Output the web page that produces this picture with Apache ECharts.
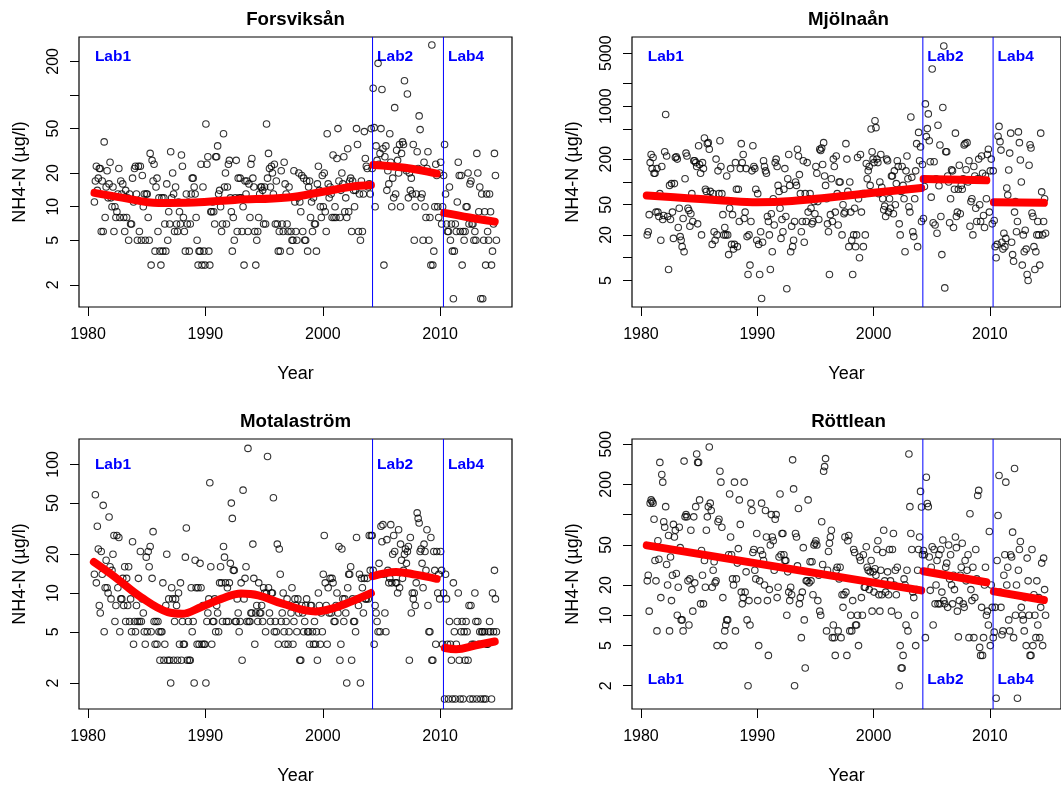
<!DOCTYPE html>
<html>
<head>
<meta charset="utf-8">
<title>NH4-N</title>
<script src="https://cdn.jsdelivr.net/npm/echarts@6/dist/echarts.min.js"></script>
<style>
  html, body { margin: 0; padding: 0; background: #fff; }
  #chart { width: 1061px; height: 787px; }
</style>
</head>
<body>
<div id="chart"></div>
<script>
// monthly samples, first one July 1980, last one October 2014
const startYear = 1980 + 6.5 / 12;
const xTicks = [1980, 1990, 2000, 2010];
const labNames = ['Lab1', 'Lab2', 'Lab4'];
const labAt = [1980.2, 2004.24, 2010.28];

const forsviksan = [
  11, 17, 23, 14, 18, 22,
  22, 6, 17, 6, 38, 8, 15, 21, 12, 16, 25, 12,
  10, 15, 6, 10, 8, 9, 13, 22, 8, 17, 13, 16,
  8, 6, 14, 8, 12, 5, 13, 7, 7, 18, 11, 22,
  23, 13, 5, 23, 6, 23, 5, 19, 10, 13, 5, 13,
  13, 8, 5, 30, 3, 26, 17, 24, 4, 15, 18, 6,
  12, 4, 3, 12, 4, 12, 7, 4, 16, 5, 9, 7,
  31, 12, 20, 13, 6, 15, 7, 6, 11, 9, 7, 29,
  23, 8, 6, 4, 13, 7, 11, 4, 7, 13, 18, 18,
  15, 13, 8, 5, 3, 4, 4, 24, 3, 15, 4, 3,
  55, 24, 28, 4, 3, 9, 9, 11, 9, 7, 28, 28,
  35, 13, 14, 10, 6, 7, 45, 15, 20, 7, 15, 24,
  26, 12, 9, 4, 8, 5, 12, 26, 6, 18, 12, 18,
  12, 6, 10, 3, 17, 13, 17, 6, 16, 8, 24, 27,
  18, 15, 6, 3, 5, 6, 8, 13, 15, 15, 14, 7,
  15, 7, 55, 18, 30, 22, 15, 23, 20, 13, 24, 7,
  17, 7, 4, 6, 4, 21, 7, 6, 25, 16, 13, 7,
  6, 15, 4, 6, 5, 5, 21, 11, 6, 5, 12, 20,
  11, 9, 19, 6, 18, 5, 5, 17, 4, 15, 17, 8,
  11, 6, 12, 7, 7, 4, 16, 23, 14, 10, 8, 19,
  10, 20, 9, 6, 45, 16, 12, 15, 13, 8, 29, 8,
  10, 8, 27, 50, 17, 8, 14, 20, 16, 28, 9, 12,
  8, 33, 9, 17, 18, 6, 17, 14, 10, 14, 50, 36,
  6, 13, 5, 17, 6, 13, 47, 27, 23, 22, 15, 16,
  13, 50, 22,
  // Lab2
  115, 51, 10, 35, 26, 192, 24, 30, 50,
  112, 33, 3, 28, 35, 14, 21, 16, 45, 25, 10, 18,
  12, 77, 13, 32, 26, 20, 36, 10, 30, 38, 36, 134,
  22, 21, 102, 12, 20, 14, 18, 13, 36, 5, 10, 13,
  31, 22, 65, 49, 12, 13, 5, 25, 10, 8, 22, 31,
  5, 8, 3, 280, 3, 4, 10, 24, 19, 10, 8, 20,
  25, 7, 10, 19,
  // Lab4
  36, 13, 7, 6, 6, 15, 5, 7,
  4, 1.5, 4, 7, 6, 11, 25, 19, 6, 19, 3, 6,
  5, 6, 10, 10, 20, 7, 16, 17, 7, 7, 5, 6,
  5, 30, 20, 9, 15, 1.5, 13, 1.5, 5, 9, 3, 13,
  6, 5, 13, 9, 3, 4, 7, 30, 19, 5
];

const mjolnaan = [
  20, 22, 37, 180, 230, 150,
  210, 130, 130, 40, 150, 40, 35, 70, 17, 160, 32, 36,
  250, 775, 220, 35, 7, 90, 32, 95, 40, 18, 95, 210,
  215, 200, 25, 45, 19, 17, 14, 33, 12, 110, 240, 220,
  45, 42, 26, 38, 70, 30, 190, 190, 180, 160, 28, 300,
  170, 130, 20, 180, 150, 380, 80, 75, 320, 330, 270, 75,
  60, 15, 70, 22, 17, 200, 20, 140, 70, 350, 160, 70,
  37, 20, 25, 20, 120, 20, 11, 45, 150, 15, 37, 13,
  15, 180, 80, 14, 80, 30, 150, 320, 180, 230, 33, 40,
  150, 19, 6, 20, 8, 30, 140, 300, 160, 150, 80, 17,
  70, 15, 6, 22, 2.9, 16, 190, 160, 140, 130, 35, 30,
  20, 7, 38, 12, 60, 27, 180, 200, 160, 90, 75, 45,
  18, 32, 22, 80, 150, 35, 3.9, 110, 230, 90, 12, 26,
  14, 17, 30, 100, 90, 270, 220, 125, 70, 22, 30, 190,
  16, 70, 30, 180, 40, 60, 70, 45, 28, 30, 55, 38,
  160, 130, 55, 32, 270, 260, 280, 170, 330, 120, 90, 60,
  28, 22, 6, 37, 110, 30, 200, 160, 40, 220, 70, 27,
  100, 100, 65, 20, 50, 38, 40, 320, 200, 75, 14, 100,
  40, 17, 6, 20, 45, 14, 20, 210, 60, 10, 230, 40,
  70, 14, 70, 20, 175, 110, 140, 160, 90, 500, 250, 200,
  180, 640, 520, 200, 180, 70, 100, 230, 85, 60, 43, 48,
  35, 200, 190, 40, 60, 45, 120, 120, 38, 140, 50, 95,
  190, 160, 28, 20, 75, 160, 90, 60, 12, 140, 220, 110,
  47, 40, 720, 115, 22, 19, 60, 140, 320, 14, 450, 190,
  290, 30, 170,
  // Lab2
  33, 87, 1070, 396, 505, 790, 350, 185, 63,
  3090, 29, 185, 27, 110, 21, 560, 89, 307, 35, 11, 960,
  6200, 4, 250, 250, 120, 100, 29, 60, 145, 140, 25, 80,
  440, 35, 40, 80, 166, 38, 90, 80, 110, 307, 320, 145,
  330, 100, 190, 26, 55, 60, 20, 160, 120, 45, 30, 110,
  200, 50, 30, 220, 130, 36, 25, 120, 60, 230, 270, 40,
  140, 200, 28, 140,
  // Lab4
  31, 14, 10, 15, 400, 540, 340, 263,
  16, 13, 21, 14, 18, 83, 67, 144, 240, 440, 16, 11,
  9, 40, 55, 22, 30, 457, 330, 195, 100, 8, 20, 12,
  23, 13, 6, 5, 166, 309, 280, 39, 35, 14, 7, 12,
  20, 30, 20, 8, 440, 74, 20, 30, 60, 21
];

const motalastrom = [
  14, 58, 12, 33, 22, 8,
  7, 21, 14, 48, 5, 11, 18, 11, 10, 39, 16, 9,
  15, 20, 28, 6, 8, 28, 11, 27, 5, 9, 9, 13,
  8, 16, 6, 13, 8, 16, 6, 9, 5, 25, 4, 6,
  5, 8, 6, 13, 6, 21, 6, 9, 7, 5, 4, 19,
  5, 21, 16, 23, 5, 13, 30, 6, 4, 6, 4, 6,
  5, 3, 5, 5, 12, 3, 4, 8, 20, 3, 9, 3,
  2, 11, 9, 3, 6, 9, 8, 3, 10, 4, 12, 3,
  6, 4, 4, 19, 32, 3, 6, 3, 3, 11, 5, 6,
  2, 18, 11, 4, 11, 4, 17, 11, 4, 8, 4, 4,
  2, 6, 7, 9, 72, 16, 4, 6, 6, 9, 5, 8,
  7, 5, 12, 16, 12, 6, 23, 19, 12, 6, 11, 6,
  12, 17, 50, 38, 15, 15, 6, 6, 9, 7, 5, 6,
  12, 3, 63, 9, 13, 16, 6, 133, 6, 6, 7, 7,
  24, 13, 4, 7, 8, 6, 12, 7, 7, 8, 6, 11,
  10, 5, 10, 115, 11, 7, 6, 10, 10, 55, 5, 6,
  5, 24, 4, 22, 14, 6, 7, 10, 5, 4, 6, 9,
  4, 5, 8, 7, 11, 4, 6, 9, 8, 5, 9, 7,
  3, 3, 8, 7, 5, 6, 8, 9, 5, 5, 4, 8,
  8, 5, 4, 6, 4, 5, 3, 10, 8, 4, 7, 5,
  14, 28, 12, 8, 4, 11, 7, 13, 7, 13, 12, 6,
  6, 8, 10, 7, 23, 3, 4, 22, 9, 6, 9, 7,
  2, 11, 14, 14, 16, 3, 9, 6, 6, 5, 27, 9,
  8, 14, 2, 13, 11, 7, 13, 9, 9, 13, 9, 28,
  15, 28, 28,
  // Lab2
  15, 4, 8, 7, 6, 5, 17, 5, 33,
  25, 34, 14, 7, 5, 26, 15, 12, 13, 34, 12, 20,
  28, 21, 12, 12, 10, 31, 11, 24, 18, 13, 15, 20,
  22, 17, 21, 23, 3, 27, 7, 10, 9, 10, 8, 12,
  42, 38, 35, 21, 22, 17, 11, 24, 21, 15, 31, 8,
  5, 5, 27, 3, 3, 21, 15, 4, 21, 10, 14, 9,
  21, 15, 4, 10,
  // Lab4
  1.5, 14, 9, 4, 1.5, 6, 4, 3,
  1.5, 12, 5, 1.5, 4, 6, 10, 3, 1.5, 5, 6, 1.5,
  5, 3, 6, 5, 3, 8, 1.5, 8, 4, 1.5, 4, 10,
  6, 1.5, 6, 4, 5, 1.5, 5, 5, 1.5, 5, 1.5, 4,
  4, 5, 6, 5, 1.5, 10, 5, 15, 9, 5
];

const rottlean = [
  22, 25, 11, 130, 140, 135,
  130, 90, 35, 22, 7, 55, 36, 330, 15, 250, 210, 85,
  75, 120, 32, 20, 62, 7, 38, 14, 25, 80, 60, 70,
  26, 10, 19, 75, 47, 9, 9, 7, 340, 95, 100, 95,
  22, 8, 23, 70, 18, 11, 95, 21, 120, 400, 330, 330,
  140, 13, 44, 25, 13, 35, 19, 70, 95, 120, 470, 130,
  110, 19, 28, 34, 21, 22, 5, 85, 90, 270, 210, 75,
  15, 5, 7, 8, 9, 9, 40, 160, 60, 40, 23, 20,
  210, 7, 23, 33, 46, 140, 80, 17, 13, 15, 210, 17,
  27, 9, 2, 14, 8, 130, 110, 42, 45, 28, 23, 65,
  14, 5, 22, 44, 130, 40, 35, 20, 110, 60, 14, 4,
  18, 50, 100, 60, 55, 28, 90, 100, 15, 19, 38, 160,
  40, 65, 65, 40, 35, 35, 10, 27, 17, 14, 19, 16,
  350, 180, 2, 65, 60, 31, 115, 13, 15, 6, 17, 47,
  9, 3, 22, 22, 140, 21, 34, 22, 34, 16, 50, 52,
  55, 50, 14, 25, 11, 10, 85, 32, 270, 300, 360, 7,
  28, 43, 52, 60, 70, 6, 8, 6, 4, 28, 30, 7,
  23, 30, 6, 16, 12, 16, 60, 17, 4, 55, 62, 7,
  10, 7, 14, 45, 42, 8, 8, 10, 5, 38, 35, 15,
  10, 40, 19, 19, 48, 30, 28, 18, 27, 35, 11, 27,
  17, 29, 25, 45, 55, 16, 11, 28, 16, 42, 70, 22,
  17, 20, 27, 16, 45, 22, 11, 45, 65, 20, 28, 16,
  30, 10, 2, 5, 3, 3, 4, 23, 20, 8, 28, 7,
  400, 120, 65, 45, 17, 15, 10, 5, 18, 28, 45, 60,
  170, 119, 40,
  // Lab2
  44, 40, 6, 235, 129, 120, 38, 17.7, 30,
  48, 8, 45, 13, 20, 35, 13, 40, 13, 45, 17, 56,
  14, 13, 30, 33, 12, 50, 23, 40, 20, 13, 25, 18,
  60, 47, 11, 6.1, 14, 25, 30, 52, 13, 12, 35, 22,
  28, 40, 6, 102, 18, 14, 30, 6, 15, 45, 23, 155,
  174, 4.8, 4, 12, 4, 6, 20, 30, 10, 11, 8, 68,
  5, 20, 12, 6,
  // Lab4
  6.8, 12, 1.5, 35, 98, 245, 17, 12,
  6.4, 7, 25, 40, 210, 20, 30, 9, 7, 40, 38, 67,
  6, 287, 10, 20, 1.5, 28, 45, 54, 12, 10, 9, 7,
  15, 5, 37, 22, 10, 4, 4, 45, 5, 16, 10, 6,
  22, 8, 15, 6, 12, 33, 5, 37, 18, 10
];

// fitted trends per lab period: [year, value]
const forsTrend = [
  [[1980.55, 13.3], [1983, 12.0], [1986, 10.8], [1989, 10.9], [1992.5, 11.5], [1997, 12.1], [2000, 13.6], [2002.3, 15.0], [2004.1, 15.6]],
  [[2004.3, 23.6], [2007, 22.3], [2009.7, 19.8]],
  [[2010.35, 8.8], [2012.5, 8.0], [2014.65, 7.35]]
];
const mjolTrend = [
  [[1980.5, 66], [1984, 61], [1987, 57], [1990, 54], [1993, 56], [1996, 62], [2000, 72], [2004.1, 83]],
  [[2004.3, 109], [2009.7, 105]],
  [[2010.35, 54], [2014.65, 53]]
];
const motaTrend = [
  [[1980.5, 17.4], [1982.3, 13.3], [1984.5, 9.3], [1986.8, 7.1], [1988, 6.9], [1989.65, 7.8], [1991.35, 9.0], [1993.05, 9.9], [1994.5, 9.6], [1996.5, 8.3], [1999.4, 7.2], [2000.85, 7.6], [2002.3, 8.5], [2004.1, 10.0]],
  [[2004.25, 13.5], [2006.25, 14.6], [2007.9, 13.9], [2009.7, 12.9]],
  [[2010.4, 3.74], [2011.35, 3.66], [2013.05, 3.93], [2014.65, 4.2]]
];
const rottTrend = [
  [[1980.5, 49.5], [2004.1, 17.7]],
  [[2004.3, 27.4], [2009.7, 21.3]],
  [[2010.35, 17.3], [2014.65, 14.2]]
];

const forsTicks = [2, 5, 10, 20, 50, 100, 200];
const forsLabels = [2, 5, 10, 20, 50, 200];
const mjolTicks = [5, 10, 20, 50, 100, 200, 500, 1000, 2000, 5000];
const mjolLabels = [5, 20, 50, 200, 1000, 5000];
const motaTicks = [2, 5, 10, 20, 50, 100];
const motaLabels = [2, 5, 10, 20, 50, 100];
const rottTicks = [2, 5, 10, 20, 50, 100, 200, 500];
const rottLabels = [2, 5, 10, 20, 50, 200, 500];

const FONT = '"Liberation Sans", Arial, Helvetica, sans-serif';
const BOX_W = 433, BOX_H = 270;
const X_MIN = 1979.23, X_MAX = 2016.12;

const panels = [
  {title: 'Forsviksån', values: forsviksan, trend: forsTrend, ticks: forsTicks, labels: forsLabels,
   ylim: [0.102, 2.519], labY: 220, left: 79, top: 37},
  {title: 'Mjölnaån', values: mjolnaan, trend: mjolTrend, ticks: mjolTicks, labels: mjolLabels,
   ylim: [0.350, 3.912], labY: 4490, left: 632, top: 37},
  {title: 'Motalaström', values: motalastrom, trend: motaTrend, ticks: motaTicks, labels: motaLabels,
   ylim: [0.0987, 2.197], labY: 99, left: 79, top: 439},
  {title: 'Röttlean', values: rottlean, trend: rottTrend, ticks: rottTicks, labels: rottLabels,
   ylim: [0.0695, 2.751], labY: 2.31, left: 632, top: 439}
];

const chart = echarts.init(document.getElementById('chart'));

const grid = [], xAxis = [], yAxis = [], series = [], graphic = [];

panels.forEach((p, i) => {
  grid.push({
    left: p.left, top: p.top, width: BOX_W, height: BOX_H,
    show: true, borderColor: '#000', borderWidth: 1.2, backgroundColor: 'rgba(0,0,0,0)'
  });
  xAxis.push({
    gridIndex: i, type: 'value', min: X_MIN, max: X_MAX,
    axisLine: {show: false},
    splitLine: {show: false},
    axisTick: {show: true, customValues: xTicks, length: 9, lineStyle: {color: '#000', width: 1}},
    axisLabel: {
      customValues: xTicks, formatter: v => String(Math.round(v)),
      fontSize: 16, color: '#000', fontFamily: FONT, margin: 20
    },
    name: 'Year', nameLocation: 'middle', nameGap: 58,
    nameTextStyle: {fontSize: 18, color: '#000', fontFamily: FONT}
  });
  yAxis.push({
    gridIndex: i, type: 'value', min: p.ylim[0], max: p.ylim[1],
    axisLine: {show: false},
    splitLine: {show: false},
    axisTick: {show: true, customValues: p.ticks.map(Math.log10), length: 9, lineStyle: {color: '#000', width: 1}},
    axisLabel: {
      customValues: p.labels.map(Math.log10),
      formatter: v => String(Math.round(Math.pow(10, v))),
      rotate: 90, align: 'center', verticalAlign: 'bottom',
      fontSize: 16, color: '#000', fontFamily: FONT, margin: 17
    },
    name: 'NH4-N (µg/l)', nameLocation: 'middle', nameRotate: 90, nameGap: 50,
    nameTextStyle: {fontSize: 18, color: '#000', fontFamily: FONT}
  });

  series.push({
    type: 'scatter', xAxisIndex: i, yAxisIndex: i,
    data: p.values.map((v, k) => [startYear + k / 12, Math.log10(v)]),
    symbol: 'circle', symbolSize: 6.5,
    itemStyle: {color: 'rgba(0,0,0,0)', borderColor: '#000', borderWidth: 1.1},
    emphasis: {disabled: true}, silent: true, z: 2
  });

  // vertical lines where the lab changed
  labAt.slice(1).forEach(x => {
    series.push({
      type: 'line', xAxisIndex: i, yAxisIndex: i,
      data: [[x, p.ylim[0]], [x, p.ylim[1]]],
      showSymbol: false, silent: true, z: 4,
      lineStyle: {color: '#0000ff', width: 1},
      emphasis: {disabled: true}
    });
  });

  p.trend.forEach(seg => {
    series.push({
      type: 'line', xAxisIndex: i, yAxisIndex: i,
      data: seg.map(d => [d[0], Math.log10(d[1])]),
      smooth: 0.4, showSymbol: false, silent: true, z: 3,
      lineStyle: {color: '#ff0000', width: 8, cap: 'round', join: 'round'},
      emphasis: {disabled: true}
    });
  });

  graphic.push({
    type: 'text', x: p.left + BOX_W / 2, y: p.top - 17.5, silent: true,
    style: {
      text: p.title, fill: '#000', fontSize: 18.7, fontWeight: 'bold', fontFamily: FONT,
      align: 'center', verticalAlign: 'middle', textAlign: 'center', textVerticalAlign: 'middle'
    }
  });
});

chart.setOption({
  animation: false,
  backgroundColor: '#fff',
  grid: grid, xAxis: xAxis, yAxis: yAxis, series: series, graphic: graphic
});

// lab names next to the lab change lines
panels.forEach((p, i) => {
  labAt.forEach((x, j) => {
    const pt = chart.convertToPixel({gridIndex: i}, [x, Math.log10(p.labY)]);
    graphic.push({
      type: 'text', x: pt[0] + 4.5, y: pt[1], silent: true,
      style: {
        text: labNames[j], fill: '#0000ff', fontSize: 15.5, fontWeight: 'bold', fontFamily: FONT,
        align: 'left', verticalAlign: 'middle', textAlign: 'left', textVerticalAlign: 'middle'
      }
    });
  });
});
chart.setOption({graphic: graphic});
</script>
</body>
</html>
